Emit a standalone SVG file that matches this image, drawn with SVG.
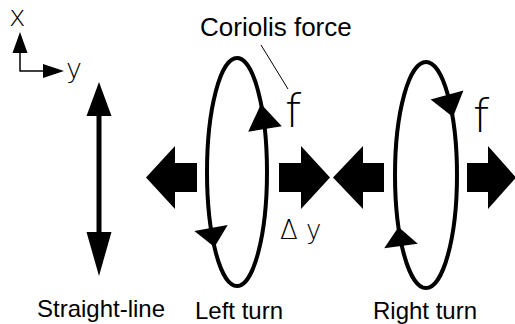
<svg xmlns="http://www.w3.org/2000/svg" width="515" height="324" viewBox="0 0 515 324">
<style>
.lbl{font-family:"Liberation Sans",Arial,sans-serif;fill:#000}
.thin{font-family:"DejaVu Sans",sans-serif;font-weight:200;fill:#000}
.loop{fill:none;stroke:#000;stroke-width:4}
.blk{fill:#000;stroke:none}
</style>
<rect width="515" height="324" fill="#fff"/>
<g id="axes">
<line x1="20" y1="71.5" x2="20" y2="52" stroke="#000" stroke-width="1.5"/>
<polygon class="blk" points="20,32 27.5,53 12.5,53"/>
<line x1="20" y1="71" x2="44" y2="71" stroke="#000" stroke-width="1.5"/>
<polygon class="blk" points="64,71 43,64 43,78"/>
<text class="thin" x="9" y="26" font-size="28">x</text>
<text class="thin" x="66" y="78" font-size="27">y</text>
</g>
<g id="straight-line">
<line x1="99" y1="114" x2="99" y2="234" stroke="#000" stroke-width="5"/>
<polygon class="blk" points="99,82 111.5,116 86.5,116"/>
<polygon class="blk" points="99,276 111.5,232 86.5,232"/>
<text class="lbl" x="37" y="317" font-size="24">Straight-line</text>
</g>
<g id="left-turn">
<ellipse class="loop" cx="237" cy="172" rx="30" ry="114"/>
<polygon class="blk" points="261,104 281.8,126.3 248.2,131.7"/>
<polygon class="blk" points="214.5,247 227.7,224.9 194.3,231.1"/>
<polygon class="blk" points="146,177.5 175,146 175,163 197,163 197,192 175,192 175,209"/>
<polygon class="blk" points="330,177.5 301,146 301,163 279,163 279,192 301,192 301,209"/>
<text class="thin" x="285" y="127" font-size="46">f</text>
<text class="thin" x="280" y="239" font-size="26">Δ y</text>
<text class="lbl" x="195" y="319" font-size="24">Left turn</text>
</g>
<g id="right-turn">
<ellipse class="loop" cx="426" cy="175" rx="31" ry="113"/>
<polygon class="blk" points="453,117 463.4,90.5 430.6,99.5"/>
<polygon class="blk" points="398.5,227 417.8,243.8 384.2,248.2"/>
<polygon class="blk" points="333,177.5 363,146 363,163 384,163 384,192 363,192 363,209"/>
<polygon class="blk" points="516,177.5 488,146 488,163 467,163 467,192 488,192 488,209"/>
<text class="thin" x="473" y="132" font-size="46">f</text>
<text class="lbl" x="373" y="319" font-size="24">Right turn</text>
</g>
<g id="coriolis-label">
<text class="lbl" x="200" y="36" font-size="26">Coriolis force</text>
</g>
<g id="connectors">
<line x1="261" y1="45" x2="288" y2="89" stroke="#000" stroke-width="1"/>
</g>
</svg>
